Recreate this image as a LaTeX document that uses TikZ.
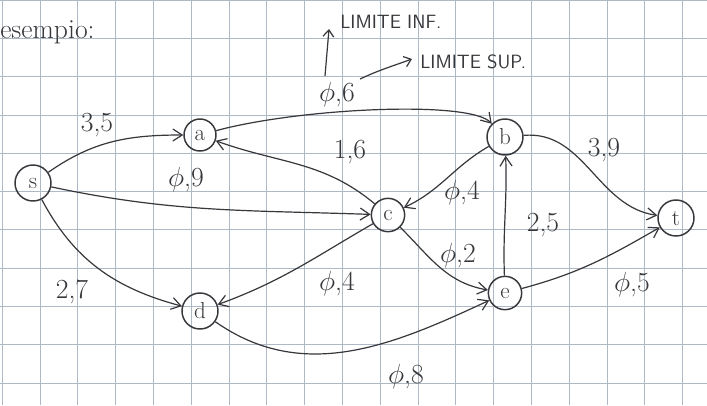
\documentclass[tikz,border=0pt]{standalone}
\usetikzlibrary{arrows.meta}
\definecolor{pen}{RGB}{55,55,60}
\definecolor{gridc}{RGB}{175,185,198}
\begin{document}
\begin{tikzpicture}[x=0.75pt,y=-0.75pt,
  vtx/.style={circle,draw=pen,line width=1.1pt,inner sep=0pt,minimum size=27pt,text=pen,font=\LARGE},
  edge/.style={draw=pen,line width=0.9pt,-{Straight Barb[length=7pt,width=9pt]}},
  lbl/.style={text=pen,font=\huge,inner sep=0pt},
  note/.style={text=pen,font=\Large\sffamily,inner sep=0pt,anchor=west}]
\useasboundingbox (0,0) rectangle (707,405);
\fill[white] (0,0) rectangle (707,405);
\foreach \k in {0,...,18} {\draw[gridc,line width=0.6pt] (2.2+37.8*\k,0) -- (2.2+37.8*\k,405);}
\foreach \k in {0,...,10} {\draw[gridc,line width=0.6pt] (0,38.3*\k) -- (707,38.3*\k);}
% nodes
\node[vtx] (s) at (33,183) {s};
\node[vtx,minimum size=24pt] (a) at (200,135) {a};
\node[vtx] (b) at (505,137) {b};
\node[vtx,minimum size=25pt] (c) at (388,215) {c};
\node[vtx] (t) at (676,218) {t};
\node[vtx] (d) at (200,311) {d};
\node[vtx,minimum size=25pt] (e) at (505,293) {e};
% edges
\draw[edge] (s) to[out=35,in=180] (a);
\draw[edge] (s) to[out=-12,in=178] (c);
\draw[edge] (s) to[out=-62,in=165] (d);
\draw[edge] (a) .. controls (300,108) and (470,100) .. (b.north west);
\draw[edge] (c) to[out=140,in=-20] (a);
\draw[edge] (b) to[out=-150,in=25] (c);
\draw[edge] (c) to[out=-45,in=170] (e);
\draw[edge] (e) to[out=92,in=-88] (b);
\draw[edge] (b) to[out=5,in=172] (t);
\draw[edge] (e) to[out=15,in=-150] (t);
\draw[edge] (c) to[out=-150,in=20] (d);
\draw[edge] (d) to[out=-35,in=-155] (e);
% labels
\node[lbl] (l1) at (97,125) {3,5};
\node[lbl] (l2) at (186,180) {$\phi$,9};
\node[lbl] (l3) at (72,292) {2,7};
\node[lbl] (l4) at (337,95) {$\phi$,6};
\node[lbl] (l5) at (350,152) {1,6};
\node[lbl] (l6) at (462,193) {$\phi$,4};
\node[lbl] (l7) at (458,256) {$\phi$,2};
\node[lbl] (l8) at (543,225) {2,5};
\node[lbl] (l9) at (604,150) {3,9};
\node[lbl] (l10) at (632,285) {$\phi$,5};
\node[lbl] (l11) at (337,284) {$\phi$,4};
\node[lbl] (l12) at (406,377) {$\phi$,8};
% annotations
\node[note] (inf) at (340,22) {LIMITE INF.};
\node[note] (sup) at (420,62) {LIMITE SUP.};
\node[note,font=\huge] (ex) at (0,32) {esempio:};
\coordinate (p1) at (325,76);
\coordinate (p2) at (329,29);
\coordinate (q1) at (360,79);
\coordinate (q2) at (412,59);
\draw[edge,-{Straight Barb[length=5pt,width=8pt]}] (p1) -- (p2);
\draw[edge,-{Straight Barb[length=5pt,width=8pt]}] (q1) to[out=25,in=200] (q2);
\end{tikzpicture}
\end{document}
